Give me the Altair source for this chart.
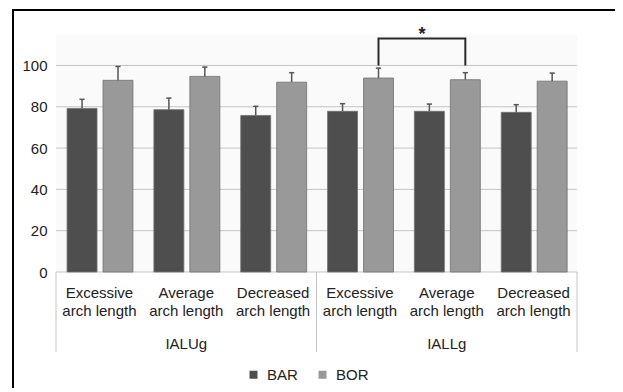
import altair as alt
import pandas as pd

groups = ["IALUg", "IALLg"]
arch = ["Excessive arch length", "Average arch length", "Decreased arch length"]
series = ["BAR", "BOR"]
bar_mean = [79.2, 78.6, 75.8, 77.8, 77.8, 77.3]
bar_err = [4.4, 5.6, 4.4, 3.7, 3.5, 3.7]
bor_mean = [92.8, 94.7, 91.9, 93.9, 93.1, 92.4]
bor_err = [6.7, 4.5, 4.6, 4.8, 3.4, 3.9]
y_ticks = [0, 20, 40, 60, 80, 100]
colors = ["#4e4e4e", "#999999"]
sig_pair = [3, 4]  # IALLg excessive vs average, BOR
sig_level = 113
sig_text = "*"

FONT = "Liberation Sans"
W, H = 521, 252
YMAX = 122
PAD_B = 116
offs = [0.30, 0.714]
half = 0.1725
px_x = 6 / W
px_y = YMAX / H

rows = []
labels = []
for gi, g in enumerate(groups):
    for ai, a in enumerate(arch):
        idx = gi * 3 + ai
        l1, l2 = a.split(" ", 1)
        labels.append(dict(xc=idx + 0.5, y0=0, line1=l1, line2=l2))
        for si, s in enumerate(series):
            m = [bar_mean, bor_mean][si][idx]
            e = [bar_err, bor_err][si][idx]
            c = idx + offs[si]
            rows.append(dict(series=s, idx=idx, xc=c, x0=c - half, x1=c + half,
                             xl=c - 0.03, xr=c + 0.03, y0=0, mean=m, top=m + e))
df = pd.DataFrame(rows)
lab = pd.DataFrame(labels)
grp = pd.DataFrame(dict(xc=[1.5 + 3 * i for i in range(len(groups))], y0=0, name=groups))
sep = pd.DataFrame(dict(x=[0, 3, 6], y0=0))

xs = alt.Scale(domain=[0, 6], nice=False, zero=False)
ys = alt.Scale(domain=[0, YMAX], nice=False)
yaxis = alt.Axis(values=y_ticks, grid=False, domain=False, ticks=False,
                 labelPadding=9, labelFontSize=15, labelFont=FONT, labelColor="#222",
                 title=None)


def X(f):
    return alt.X(f, scale=xs, axis=None)


def Y(f):
    return alt.Y(f, scale=ys, axis=yaxis)


bg = alt.Chart(pd.DataFrame(dict(a=[0], b=[6], c=[0], d=[115]))).mark_rect(color="#fafafa").encode(
    x=X("a:Q"), x2="b:Q", y=Y("c:Q"), y2="d:Q")

grid = alt.Chart(pd.DataFrame(dict(v=y_ticks, a=0, b=6))).mark_rule(color="#c4c4c4", strokeWidth=1).encode(
    y=Y("v:Q"), x=X("a:Q"), x2="b:Q")

base = alt.Chart(df)
bars = base.mark_rect(stroke="#707070", strokeWidth=0.8).encode(
    x=X("x0:Q"), x2="x1:Q", y=Y("mean:Q"), y2="y0:Q",
    color=alt.Color("series:N", scale=alt.Scale(domain=series, range=colors),
                    legend=alt.Legend(title=None, orient="none", legendX=190, legendY=347,
                                      direction="horizontal", symbolType="square",
                                      symbolSize=64, symbolStrokeWidth=0, labelFontSize=15,
                                      labelFont=FONT, labelColor="#222", labelOffset=6,
                                      columnPadding=17, padding=0)))

err = base.mark_rule(color="#555555", strokeWidth=1.5).encode(
    x=X("xc:Q"), y=Y("mean:Q"), y2="top:Q")
caps = base.mark_rule(color="#555555", strokeWidth=1.5).encode(
    x=X("xl:Q"), x2="xr:Q", y=Y("top:Q"))

t1 = alt.Chart(lab).mark_text(font=FONT, fontSize=15, color="#222", baseline="middle", dy=21).encode(
    x=X("xc:Q"), y=Y("y0:Q"), text="line1:N")
t2 = alt.Chart(lab).mark_text(font=FONT, fontSize=15, color="#222", baseline="middle", dy=39).encode(
    x=X("xc:Q"), y=Y("y0:Q"), text="line2:N")
tg = alt.Chart(grp).mark_text(font=FONT, fontSize=15, color="#222", baseline="middle", dy=72).encode(
    x=X("xc:Q"), y=Y("y0:Q"), text="name:N")
seps = alt.Chart(sep).mark_rule(color="#c4c4c4", strokeWidth=1).encode(
    x=X("x:Q"), y=Y("y0:Q"), y2=alt.value(H + 80))

bx = [df[(df.idx == i) & (df.series == "BOR")].xc.iloc[0] for i in sig_pair]
br = pd.DataFrame(dict(x=[bx[0], bx[0], bx[1], bx[1]], y=[100, sig_level, sig_level, 100], o=[0, 1, 2, 3]))
bracket = alt.Chart(br).mark_line(color="#2a2a2a", strokeWidth=2).encode(
    x=X("x:Q"), y=Y("y:Q"), order="o:Q")
star = alt.Chart(pd.DataFrame(dict(x=[sum(bx) / 2], y=[sig_level], t=[sig_text]))).mark_text(
    font=FONT, fontSize=18, fontWeight="bold", color="#222", baseline="alphabetic", dy=1).encode(
    x=X("x:Q"), y=Y("y:Q"), text="t:N")

# frame (top and left border lines), expressed in scale units
fx = -43 * px_x
fy_top = 262 * px_y
fy_bot = -(PAD_B + 10) * px_y
frame = alt.Chart(pd.DataFrame(dict(x=[6 + 38 * px_x, fx, fx], y=[fy_top, fy_top, fy_bot], o=[0, 1, 2]))).mark_line(
    color="#000", strokeWidth=2, strokeCap="butt").encode(
    x=X("x:Q"), y=Y("y:Q"), order="o:Q")

chart = alt.layer(bg, grid, seps, bars, err, caps, t1, t2, tg, bracket, star, frame).properties(
    width=W, height=H, autosize=alt.AutoSizeParams(type="none"),
    padding={"left": 48, "top": 12, "right": 38, "bottom": PAD_B},
    background="white"
).configure_view(stroke=None)

chart.save("out.html", embed_options={"renderer": "svg", "actions": False})
